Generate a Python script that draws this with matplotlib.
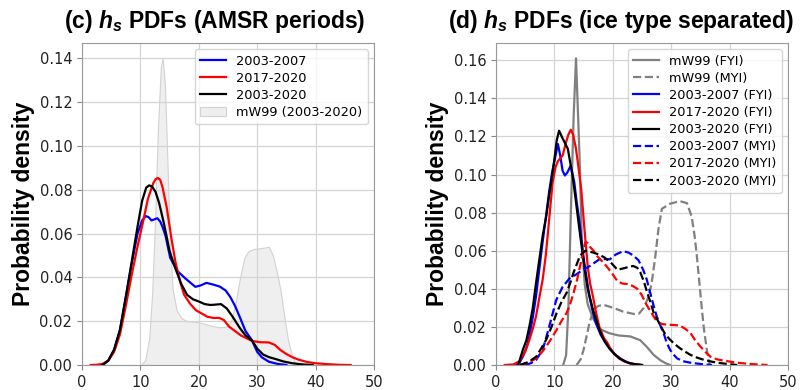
import matplotlib.pyplot as plt

plt.rcParams['mathtext.fontset'] = 'custom'
plt.rcParams['mathtext.it'] = 'Liberation Sans:italic:bold'
plt.rcParams['mathtext.rm'] = 'Liberation Sans:bold'

# ---- panel (c): AMSR periods ----
c_blue_x = [3.5, 4.5, 5.5, 6.5, 7.5, 8.5, 9.5, 10.3, 10.9, 11.4, 11.9, 12.4, 12.9, 13.4, 13.8, 14.3,
            15.1, 16.3, 17.7, 19.4, 20.3, 21.3, 22.5, 23.6, 24.6, 25.4, 26.2, 27.0, 28.0, 29.1, 30.0,
            30.8, 32.0, 33.5, 35.0]
c_blue_y = [0.0, 0.002, 0.007, 0.016, 0.031, 0.046, 0.060, 0.066, 0.068, 0.0675, 0.066, 0.0665, 0.067,
            0.0655, 0.063, 0.059, 0.049, 0.043, 0.0395, 0.0357, 0.0363, 0.0375, 0.0367, 0.0358, 0.034,
            0.031, 0.027, 0.022, 0.0155, 0.0113, 0.006, 0.0035, 0.0015, 0.0005, 0.0]

c_red_x = [1.5, 2.5, 3.5, 4.5, 5.5, 6.5, 7.5, 8.5, 9.5, 10.5, 11.3, 12.2, 12.6, 13.0, 13.4, 13.8, 14.5,
           15.3, 16.0, 16.8, 17.5, 18.5, 19.5, 20.5, 21.5, 22.5, 23.5, 24.3, 25.2, 26.2, 27.2, 28.2,
           29.1, 30.5, 32.0, 33.0, 34.0, 35.0, 36.0, 37.0, 38.5, 40.0, 42.0, 44.0, 46.0]
c_red_y = [0.0, 0.0001, 0.0005, 0.002, 0.006, 0.014, 0.027, 0.041, 0.054, 0.066, 0.076, 0.083, 0.0848,
           0.0854, 0.0845, 0.081, 0.072, 0.058, 0.047, 0.038, 0.032, 0.028, 0.025, 0.0235, 0.022,
           0.0215, 0.0215, 0.0205, 0.0175, 0.0155, 0.0135, 0.0122, 0.011, 0.0104, 0.0103, 0.0092,
           0.0068, 0.005, 0.0036, 0.0025, 0.0014, 0.0008, 0.0004, 0.0001, 0.0]

c_black_x = [3.5, 4.5, 5.5, 6.5, 7.5, 8.5, 9.5, 10.3, 11.0, 11.5, 12.0, 12.6, 13.2, 14.0, 15.0, 16.0,
             17.0, 18.0, 19.0, 20.0, 21.0, 22.0, 23.0, 23.8, 24.8, 25.8, 27.0, 28.0, 29.1, 30.0, 31.0,
             32.0, 33.3, 34.5, 36.0, 38.0, 39.5]
c_black_y = [0.0, 0.002, 0.007, 0.016, 0.031, 0.047, 0.063, 0.075, 0.081, 0.082, 0.0815, 0.079, 0.074,
             0.065, 0.052, 0.044, 0.037, 0.032, 0.030, 0.029, 0.0278, 0.0274, 0.0276, 0.0278, 0.0258,
             0.022, 0.017, 0.0135, 0.0112, 0.0075, 0.0048, 0.0036, 0.0026, 0.0016, 0.0008, 0.0002, 0.0]

c_mw99_x = [10.0, 10.8, 11.5, 12.0, 12.5, 13.0, 13.5, 13.8, 14.2, 14.6, 15.0, 15.5, 16.2, 17.0, 18.0,
            20.0, 22.0, 23.5, 24.7, 25.5, 26.2, 27.0, 27.8, 28.5, 29.5, 31.0, 32.0, 32.7, 33.4, 34.0,
            34.7, 35.3, 35.9, 36.5, 37.0]
c_mw99_y = [0.0, 0.002, 0.012, 0.032, 0.065, 0.108, 0.136, 0.140, 0.128, 0.095, 0.060, 0.035, 0.025,
            0.0215, 0.020, 0.0195, 0.018, 0.0172, 0.0175, 0.020, 0.027, 0.039, 0.049, 0.052, 0.053,
            0.0535, 0.054, 0.050, 0.042, 0.034, 0.021, 0.011, 0.005, 0.001, 0.0]

# ---- panel (d): ice type separated ----
d_mw_fyi_x = [11.5, 12.0, 12.4, 12.8, 13.3, 13.7, 14.3, 14.7, 15.2, 15.7, 16.6, 17.7, 19.4, 21.0,
              23.0, 24.7, 25.8, 27.0, 28.1, 29.0, 29.8]
d_mw_fyi_y = [0.0, 0.005, 0.03, 0.078, 0.131, 0.161, 0.11, 0.065, 0.042, 0.032, 0.0245, 0.019,
              0.0167, 0.0155, 0.015, 0.013, 0.0096, 0.0053, 0.0026, 0.001, 0.0]

d_mw_myi_x = [13.8, 14.5, 15.0, 15.5, 16.0, 16.7, 17.5, 18.4, 20.1, 21.8, 23.6, 24.5, 25.3, 26.0, 26.6,
              27.2, 27.8, 28.4, 29.8, 31.5, 32.7, 33.5, 34.0, 34.4, 34.8, 35.2, 35.6, 36.1, 36.6]
d_mw_myi_y = [0.0, 0.003, 0.008, 0.015, 0.022, 0.029, 0.031, 0.0316, 0.030, 0.028, 0.0268, 0.027,
              0.030, 0.035, 0.042, 0.055, 0.071, 0.082, 0.0847, 0.086, 0.085, 0.078, 0.068, 0.057,
              0.044, 0.031, 0.019, 0.008, 0.0]

d_blue_fyi_x = [3.5, 4.0, 4.6, 5.2, 5.7, 6.3, 6.85, 7.4, 8.0, 8.6, 9.1, 9.6, 10.0, 10.6, 11.0, 11.4,
                11.8, 12.2, 12.8, 13.4, 13.8, 14.3, 14.7, 15.1, 15.6, 16.0, 16.5, 17.1, 17.9, 18.8,
                19.6, 20.5, 21.5, 22.5, 23.5, 25.0]
d_blue_fyi_y = [0.0, 0.001, 0.0044, 0.009, 0.015, 0.025, 0.036, 0.050, 0.065, 0.079, 0.091, 0.101,
                0.107, 0.116, 0.110, 0.102, 0.0995, 0.101, 0.1047, 0.096, 0.086, 0.075, 0.064, 0.054,
                0.044, 0.036, 0.029, 0.022, 0.016, 0.0114, 0.008, 0.0053, 0.003, 0.0014, 0.0005, 0.0]

d_red_fyi_x = [1.5, 3.0, 4.0, 5.0, 5.7, 6.3, 6.85, 7.4, 8.0, 8.5, 8.85, 9.3, 9.7, 10.2, 10.6, 11.4,
               12.0, 12.4, 12.8, 13.2, 13.7, 14.2, 14.6, 15.1, 15.7, 16.1, 16.6, 17.1, 17.7, 18.5,
               19.0, 19.4, 20.2, 21.1, 22.0, 22.8, 24.0, 25.0]
d_red_fyi_y = [0.0, 0.0003, 0.002, 0.007, 0.013, 0.019, 0.0255, 0.035, 0.045, 0.057, 0.068, 0.083,
               0.096, 0.104, 0.107, 0.110, 0.117, 0.121, 0.1235, 0.121, 0.1135, 0.102, 0.092, 0.073,
               0.052, 0.043, 0.036, 0.028, 0.020, 0.014, 0.012, 0.0097, 0.006, 0.0035, 0.0018, 0.001,
               0.0003, 0.0]

d_black_fyi_x = [3.8, 4.6, 5.2, 5.7, 6.3, 6.85, 7.4, 8.0, 8.6, 9.1, 9.6, 10.0, 10.4, 10.8, 11.4, 12.3,
                 13.1, 13.6, 14.0, 14.5, 14.9, 15.3, 15.7, 16.2, 16.6, 17.2, 17.7, 18.5, 19.4, 20.2,
                 21.1, 22.0, 22.8, 24.0, 25.0]
d_black_fyi_y = [0.0, 0.008, 0.013, 0.020, 0.030, 0.043, 0.055, 0.068, 0.078, 0.089, 0.099, 0.108,
                 0.118, 0.123, 0.119, 0.1135, 0.0995, 0.088, 0.078, 0.066, 0.057, 0.048, 0.040, 0.034,
                 0.029, 0.0235, 0.0185, 0.013, 0.0088, 0.006, 0.0035, 0.002, 0.001, 0.0003, 0.0]

d_blue_myi_x = [5.0, 6.0, 6.85, 8.0, 9.1, 10.3, 11.4, 12.6, 13.7, 14.9, 16.1, 17.0, 17.8, 19.5, 20.5,
                21.8, 22.7, 23.5, 24.4, 25.2, 25.8, 26.4, 27.0, 27.5, 28.1, 28.7, 29.2, 29.8, 30.4,
                31.0, 32.0, 33.3, 35.6, 37.0]
d_blue_myi_y = [0.0, 0.001, 0.0026, 0.008, 0.020, 0.034, 0.041, 0.0455, 0.0475, 0.050, 0.052, 0.054,
                0.0557, 0.0555, 0.058, 0.0598, 0.059, 0.0575, 0.055, 0.050, 0.045, 0.038, 0.031,
                0.0257, 0.021, 0.0168, 0.012, 0.008, 0.0055, 0.0035, 0.002, 0.0012, 0.0003, 0.0]

d_red_myi_x = [4.0, 5.5, 6.9, 7.8, 8.6, 9.5, 10.4, 11.2, 12.1, 12.7, 13.3, 13.9, 14.4, 14.9, 15.3,
               15.7, 16.1, 16.7, 17.2, 18.0, 18.9, 19.9, 20.8, 21.6, 22.5, 23.4, 24.2, 24.9, 25.4,
               25.9, 26.7, 27.5, 28.4, 29.3, 30.4, 31.5, 32.4, 33.3, 34.1, 35.0, 35.8, 36.7, 37.8,
               39.0, 40.2, 41.3, 43.0, 44.7, 46.5]
d_red_myi_y = [0.0, 0.0012, 0.0035, 0.0065, 0.0097, 0.014, 0.0186, 0.023, 0.0274, 0.032, 0.038,
               0.045, 0.052, 0.059, 0.0646, 0.064, 0.062, 0.060, 0.0575, 0.055, 0.052, 0.048, 0.044,
               0.0428, 0.0425, 0.0415, 0.040, 0.037, 0.034, 0.031, 0.027, 0.023, 0.0215, 0.0212,
               0.021, 0.0207, 0.019, 0.0168, 0.013, 0.0097, 0.007, 0.0044, 0.003, 0.0023, 0.0017,
               0.0012, 0.0007, 0.0003, 0.0]

d_black_myi_x = [4.1, 5.5, 6.9, 7.8, 8.6, 9.5, 10.4, 11.2, 12.1, 12.7, 13.3, 14.4, 15.3, 16.7, 17.6,
                 18.5, 19.6, 20.8, 21.9, 22.7, 23.5, 24.2, 24.7, 25.3, 25.9, 26.5, 27.0, 27.6, 28.2,
                 29.0, 29.8, 30.6, 31.5, 32.4, 33.3, 34.5, 35.6, 37.0, 38.4, 40.0, 41.3]
d_black_myi_y = [0.0, 0.0015, 0.0044, 0.009, 0.0133, 0.020, 0.0274, 0.033, 0.038, 0.043, 0.0487,
                 0.0575, 0.060, 0.059, 0.058, 0.0566, 0.054, 0.050, 0.0508, 0.0515, 0.052, 0.051,
                 0.0487, 0.044, 0.038, 0.0325, 0.0274, 0.024, 0.0204, 0.016, 0.0133, 0.011, 0.0088,
                 0.007, 0.0053, 0.0038, 0.0027, 0.0017, 0.001, 0.0004, 0.0]

xticks = [0, 10, 20, 30, 40, 50]
title_font = {'family': 'Liberation Sans', 'weight': 'bold', 'size': 16.5}


def style_axes(ax, title, title_x):
    ax.set_xlim(0, 50)
    ax.set_ylim(bottom=0)
    ax.set_xticks(xticks)
    ax.set_title(title, fontdict=title_font, pad=11, x=title_x)
    ax.set_ylabel('Probability density', fontdict=title_font, labelpad=3)
    ax.grid(True, color='#d4d4d4', linewidth=0.9)
    ax.set_axisbelow(True)
    ax.tick_params(labelsize=10.5, colors='#888888', labelcolor='#222222', length=3.5)
    for sp in ax.spines.values():
        sp.set_color('#999999')


fig = plt.figure(figsize=(8, 3.9), dpi=100)
ax1 = fig.add_axes([0.1025, 0.0641, 0.365, 0.8256])
ax2 = fig.add_axes([0.62, 0.0641, 0.365, 0.8256])

# (c)
ax1.plot(c_blue_x, c_blue_y, color='blue', lw=1.6, label='2003-2007')
ax1.plot(c_red_x, c_red_y, color='red', lw=1.6, label='2017-2020')
ax1.plot(c_black_x, c_black_y, color='black', lw=1.6, label='2003-2020')
ax1.fill_between(c_mw99_x, c_mw99_y, facecolor='#efefef', edgecolor='#d2d2d2', lw=0.8,
                 label='mW99 (2003-2020)', zorder=0.5)
style_axes(ax1, r'(c) $h_s$ PDFs (AMSR periods)', 0.455)
ax1.set_yticks([0, 0.02, 0.04, 0.06, 0.08, 0.10, 0.12, 0.14])
ax1.set_yticklabels(['0.00', '0.02', '0.04', '0.06', '0.08', '0.10', '0.12', '0.14'])
ax1.legend(loc='upper right', fontsize=9.3, labelspacing=0.32, framealpha=0.8)

# (d)
ax2.plot(d_mw_fyi_x, d_mw_fyi_y, color='gray', lw=1.6, label='mW99 (FYI)')
ax2.plot(d_mw_myi_x, d_mw_myi_y, color='gray', lw=1.6, ls='--', label='mW99 (MYI)')
ax2.plot(d_blue_fyi_x, d_blue_fyi_y, color='blue', lw=1.6, label='2003-2007 (FYI)')
ax2.plot(d_red_fyi_x, d_red_fyi_y, color='red', lw=1.6, label='2017-2020 (FYI)')
ax2.plot(d_black_fyi_x, d_black_fyi_y, color='black', lw=1.6, label='2003-2020 (FYI)')
ax2.plot(d_blue_myi_x, d_blue_myi_y, color='blue', lw=1.6, ls='--', label='2003-2007 (MYI)')
ax2.plot(d_red_myi_x, d_red_myi_y, color='red', lw=1.6, ls='--', label='2017-2020 (MYI)')
ax2.plot(d_black_myi_x, d_black_myi_y, color='black', lw=1.6, ls='--', label='2003-2020 (MYI)')
style_axes(ax2, r'(d) $h_s$ PDFs (ice type separated)', 0.428)
ax2.set_yticks([0, 0.02, 0.04, 0.06, 0.08, 0.10, 0.12, 0.14, 0.16])
ax2.set_yticklabels(['0.00', '0.02', '0.04', '0.06', '0.08', '0.10', '0.12', '0.14', '0.16'])
ax2.legend(loc='upper right', fontsize=9.3, labelspacing=0.32, framealpha=0.8)

fig.savefig('out.png', dpi=100)
